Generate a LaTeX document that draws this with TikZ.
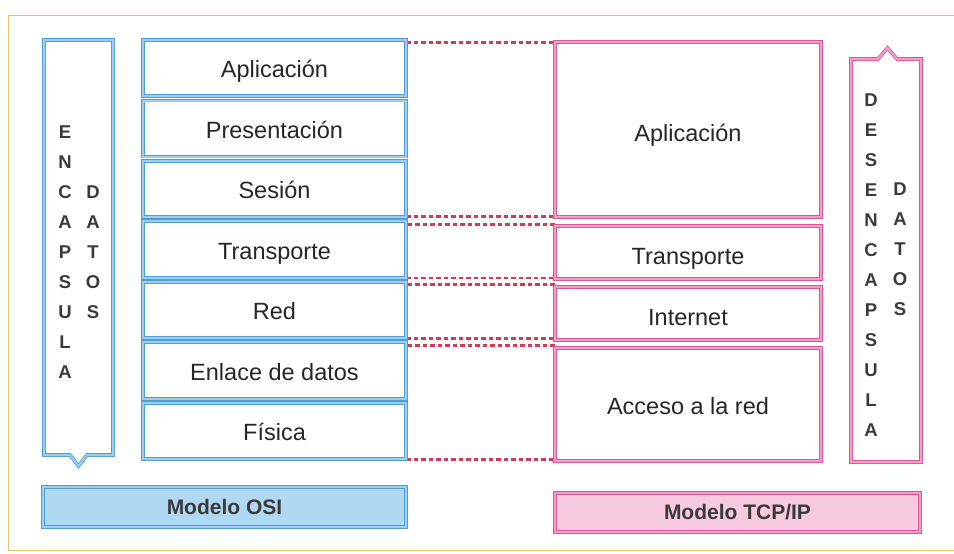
\documentclass[tikz,border=0pt]{standalone}
\usepackage{fontspec}
\setmainfont{Liberation Sans}
\usetikzlibrary{calc}
\definecolor{bluedark}{HTML}{4F9ED6}
\definecolor{bluelight}{HTML}{9CCEF0}
\definecolor{bluefill}{HTML}{B0D8F2}
\definecolor{pinkdark}{HTML}{D6579B}
\definecolor{pinklight}{HTML}{F0A0C8}
\definecolor{pinkfill}{HTML}{F8CAE0}
\definecolor{dotred}{HTML}{D23A57}
\definecolor{txt}{HTML}{262626}
\definecolor{txtb}{HTML}{3A3A3A}
\definecolor{frame}{HTML}{E8C466}
\begin{document}
\begin{tikzpicture}[x=1pt,y=-1pt,
  blueline/.style={draw=bluedark, double=bluelight, double distance=2pt, line width=0.8pt},
  pinkline/.style={draw=pinkdark, double=pinklight, double distance=2pt, line width=0.8pt},
  osibox/.style={blueline, fill=white, minimum width=263pt, minimum height=56pt, inner sep=0pt,
    text height=20.5pt, text depth=1.5pt,
    font=\fontsize{23.5}{26}\selectfont, text=txt},
  tcpbox/.style={pinkline, fill=white, minimum width=266pt, inner sep=0pt,
    text height=20.5pt, text depth=1.5pt,
    font=\fontsize{23.5}{26}\selectfont, text=txt},
  osibar/.style={blueline, fill=bluefill, minimum width=363pt, minimum height=40pt, inner sep=0pt,
    font=\fontsize{21}{24}\selectfont\bfseries, text=txtb},
  tcpbar/.style={pinkline, fill=pinkfill, minimum width=365pt, minimum height=39pt, inner sep=0pt,
    font=\fontsize{21}{24}\selectfont\bfseries, text=txtb},
  letter/.style={inner sep=0pt, font=\fontsize{18.5}{20}\selectfont\bfseries, text=txtb},
  dotline/.style={draw=dotred, line width=2.6pt, dash pattern=on 4.5pt off 3pt}
]
\useasboundingbox (0,0) rectangle (954,554);
\fill[white] (0,0) rectangle (954,554);
% outer frame
\draw[frame, line width=1pt] (960,15) -- (8,15) -- (8,550) -- (960,550);

% OSI boxes
\node[osibox] (o1) at (274.5,68) {Aplicación};
\node[osibox] (o2) at (274.5,128.5) {Presentación};
\node[osibox] (o3) at (274.5,189) {Sesión};
\node[osibox] (o4) at (274.5,249.5) {Transporte};
\node[osibox] (o5) at (274.5,310) {Red};
\node[osibox] (o6) at (274.5,370.5) {Enlace de datos};
\node[osibox] (o7) at (274.5,431) {Física};

% TCP/IP boxes
\node[tcpbox, minimum height=175pt] (t1) at (688,129.5) {\raisebox{-2pt}{Aplicación}};
\node[tcpbox, minimum height=53pt] (t2) at (688,252.5) {\raisebox{-2pt}{Transporte}};
\node[tcpbox, minimum height=53pt] (t3) at (688,313.5) {\raisebox{-2pt}{Internet}};
\node[tcpbox, minimum height=113pt] (t4) at (688,404.5) {Acceso a la red};

% dotted connectors
\coordinate (d1) at ([yshift=-3pt]o1.north east);
\draw[dotline] (d1) -- (d1 -| t1.west);
\coordinate (d2) at ([yshift=1pt]o3.south east);
\draw[dotline] (d2) -- (d2 -| t1.west);
\coordinate (d3) at ([yshift=1pt]t2.north west);
\draw[dotline] (d3) -- (d3 -| o4.east);
\coordinate (d4) at (o4.south east);
\draw[dotline] (d4) -- (d4 -| t2.west);
\coordinate (d5) at ([yshift=2pt]t3.north west);
\draw[dotline] (d5) -- (d5 -| o5.east);
\coordinate (d6) at (o5.south east);
\draw[dotline] (d6) -- (d6 -| t3.west);
\coordinate (d7) at ([yshift=2pt]t4.north west);
\draw[dotline] (d7) -- (d7 -| o6.east);
\coordinate (d8) at (o7.south east);
\draw[dotline] (d8) -- (d8 -| t4.west);
% redraw box borders over line ends
\foreach \n in {o1,o3,o4,o5,o6,o7}{\draw[blueline] (\n.north west) rectangle (\n.south east);}
\foreach \n in {t1,t2,t3,t4}{\draw[pinkline] (\n.north west) rectangle (\n.south east);}

% encapsulation arrow (left)
\draw[blueline, fill=white] (44,40) -- (113,40) -- (113,455) -- (87,455) -- (78.5,466) -- (70,455) -- (44,455) -- cycle;
\foreach \l [count=\i] in {E,N,C,A,P,S,U,L,A}
  \node[letter] (enc\i) at (65,102+30*\i) {\l};
\foreach \l [count=\i] in {D,A,T,O,S}
  \node[letter] (encd\i) at (93,162+30*\i) {\l};

% desencapsulation arrow (right)
\draw[pinkline, fill=white] (851,59) -- (878,59) -- (887.5,48) -- (897,59) -- (921,59) -- (921,462) -- (851,462) -- cycle;
\foreach \l [count=\i] in {D,E,S,E,N,C,A,P,S,U,L,A}
  \node[letter] (des\i) at (871,70+30*\i) {\l};
\foreach \l [count=\i] in {D,A,T,O,S}
  \node[letter] (desd\i) at (900,159+30*\i) {\l};

% model bars
\node[osibar] (osi) at (224.5,507) {Modelo OSI};
\node[tcpbar] (tcp) at (737.5,512.5) {Modelo TCP/IP};
\end{tikzpicture}
\end{document}
